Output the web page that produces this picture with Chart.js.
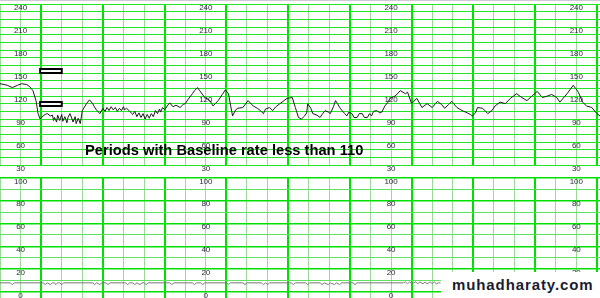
<!DOCTYPE html>
<html>
<head>
<meta charset="utf-8">
<script src="https://cdn.jsdelivr.net/npm/chart.js@4.4.0/dist/chart.umd.min.js"></script>
<style>
  html, body { margin: 0; padding: 0; background: #fff; }
  #page { position: relative; width: 600px; height: 298px; overflow: hidden; background: #fff; }
  .panel { position: absolute; left: 0; width: 600px; }
  #fhrBox { top: 0; height: 173px; }
  #uaBox { top: 170px; height: 128px; }
  #topRule { position: absolute; left: 0; top: 0; width: 600px; height: 1px; background: #cfcad8; }
  #caption {
    position: absolute; left: 85px; top: 143px;
    font: bold 14.7px "Liberation Sans", Arial, sans-serif; line-height: 15px;
    color: #000; white-space: nowrap;
  }
  #watermark {
    position: absolute; left: 441px; top: 272px; width: 159px; height: 26px;
    background: #fff; box-sizing: border-box; padding-left: 11px;
    font: bold 15px "Liberation Sans", Arial, sans-serif; line-height: 26px;
    letter-spacing: 0.9px; color: #1b1b2f; white-space: nowrap;
  }
</style>
</head>
<body>
<div id="page">
  <div class="panel" id="fhrBox"><canvas id="fhrChart"></canvas></div>
  <div class="panel" id="uaBox"><canvas id="uaChart"></canvas></div>
  <div id="topRule"></div>
  <div id="caption">Periods with Baseline rate less than 110</div>
  <div id="watermark">muhadharaty.com</div>
</div>
<script>
// fetal heart rate trace, time in seconds (20 s per small square)
const fhrTimes = [
  0, 4, 7, 12, 17, 21, 26, 29, 32, 35, 37, 39, 42, 44, 46, 49, 51, 52, 53, 55,
  56, 58, 60, 61, 63, 65, 66, 68, 70, 71, 73, 74, 76, 78, 80, 84, 87, 90, 93, 97,
  100, 102, 104, 106, 108, 110, 112, 114, 116, 118, 120, 121, 123, 126, 129, 131, 133, 135, 137, 139,
  141, 143, 145, 147, 149, 151, 153, 155, 156, 158, 160, 163, 165, 168, 171, 175, 178, 180, 183, 187,
  189, 192, 194, 199, 204, 207, 212, 216, 219, 222, 224, 226, 229, 231, 236, 241, 246, 250, 253, 256,
  258, 262, 265, 268, 272, 276, 279, 284, 287, 290, 293, 296, 298, 299, 302, 304, 308, 311, 313, 316,
  319, 321, 324, 326, 328, 330, 333, 335, 337, 339, 342, 344, 347, 349, 352, 354, 357, 359, 361, 363,
  366, 369, 371, 374, 377, 379, 384, 389, 394, 396, 400, 405, 410, 415, 420, 425, 429, 432, 436, 439,
  444, 449, 454, 457, 459, 462, 464, 469, 474, 476, 478, 481, 486, 491, 496, 502, 507, 512, 517, 522,
  527, 532, 536, 541, 544, 551, 557, 562, 566, 570, 575, 580, 583
];
const fhrBpm = [
  136, 135, 134, 131, 134, 136, 135, 132, 127, 114, 97, 90, 94, 96, 97, 94, 95, 88, 92, 86,
  95, 88, 96, 87, 93, 85, 92, 97, 90, 86, 93, 84, 91, 84, 101, 110, 115, 110, 103, 97,
  104, 100, 105, 101, 106, 102, 105, 100, 104, 101, 106, 102, 104, 100, 96, 100, 93, 98, 92, 97,
  90, 96, 91, 97, 93, 101, 97, 103, 99, 105, 102, 108, 111, 106, 108, 105, 109, 110, 116, 123,
  127, 131, 127, 118, 114, 107, 114, 122, 128, 123, 108, 94, 102, 104, 105, 114, 107, 104, 101, 97,
  103, 105, 101, 106, 110, 114, 117, 118, 105, 92, 90, 94, 98, 110, 104, 97, 95, 92, 96, 101,
  99, 97, 106, 114, 110, 105, 100, 97, 94, 99, 97, 92, 92, 97, 97, 92, 92, 97, 94, 100,
  101, 98, 99, 107, 112, 117, 120, 127, 123, 125, 110, 117, 105, 110, 105, 113, 109, 104, 109, 113,
  105, 101, 98, 96, 94, 98, 105, 104, 97, 99, 101, 107, 112, 110, 117, 123, 118, 114, 120, 126,
  118, 120, 122, 118, 112, 123, 134, 125, 112, 107, 105, 97, 94
];

// uterine activity trace (lower panel)
const uaTimes = [
  0, 10, 12, 14, 42, 44, 46, 49, 51, 53, 54, 56, 58, 60, 62, 90, 92, 94, 97, 99,
  103, 105, 107, 122, 124, 126, 129, 131, 133, 136, 138, 140, 142, 144, 165, 167, 169, 187, 189, 191,
  195, 197, 199, 220, 222, 224, 236, 238, 240, 254, 256, 258, 260, 262, 283, 285, 287, 297, 299, 301,
  311, 313, 315, 319, 321, 325, 327, 330, 332, 343, 345, 347, 392, 394, 396, 398, 400, 404, 406, 408,
  411, 413, 415, 418, 420, 422, 424, 426, 428
];
const uaValues = [
  8, 8, 6.5, 8, 8, 6.5, 8, 6.5, 8, 8, 6.5, 8, 8, 6.5, 8, 8, 6.5, 8, 6.5, 8,
  8, 6.5, 8, 8, 6.5, 8, 8, 6.5, 8, 6.5, 8, 8, 6.5, 8, 8, 6.5, 8, 8, 6.5, 8,
  8, 6.5, 8, 8, 6.5, 8, 8, 6.5, 8, 8, 6.5, 8, 6.5, 8, 8, 6.5, 8, 8, 6.5, 8,
  8, 6.5, 8, 6.5, 8, 6.5, 8, 6.5, 8, 8, 6.5, 8, 8, 8.8, 7.2, 8.8, 7.2, 8.8, 7.2, 8.8,
  7.2, 8.8, 7.2, 8.8, 7.2, 8.8, 7.2, 8, 8
];

const fhrLabels = [240, 210, 180, 150, 120, 90, 60, 30];
const uaLabels = [100, 80, 60, 40, 20, 0];
const labelTimes = [20, 200, 380, 560];
const markerBpm = [152, 110];
const markerTimes = [39, 60];

const GREEN = '#22e622';
const GREEN_THICK = '#00e000';
const GREEN_THIN = '#9cd89c';

function toPoints(xs, ys) {
  return xs.map((x, i) => ({ x, y: ys[i] }));
}

// value labels repeated in columns across the paper
const paperLabels = {
  id: 'paperLabels',
  afterDatasetsDraw(chart, args, opts) {
    const { ctx, scales: { x, y } } = chart;
    ctx.save();
    ctx.font = '8px "Liberation Sans", Arial, sans-serif';
    ctx.fillStyle = '#2b2b3b';
    ctx.textAlign = 'center';
    ctx.textBaseline = 'middle';
    labelTimes.forEach((t) => {
      opts.values.forEach((v) => {
        ctx.fillText(String(v), x.getPixelForValue(t), y.getPixelForValue(v) + opts.offset);
      });
    });
    ctx.restore();
  },
};

// the two event marker boxes
const eventMarks = {
  id: 'eventMarks',
  afterDatasetsDraw(chart) {
    const { ctx, scales: { x, y } } = chart;
    ctx.save();
    ctx.lineWidth = 2;
    ctx.strokeStyle = '#000';
    ctx.fillStyle = '#fff';
    const x0 = x.getPixelForValue(markerTimes[0]);
    const x1 = x.getPixelForValue(markerTimes[1]);
    markerBpm.forEach((v) => {
      const y0 = Math.round(y.getPixelForValue(v)) - 2;
      ctx.fillRect(x0, y0, x1 - x0, 4);
      ctx.strokeRect(x0, y0, x1 - x0, 4);
    });
    ctx.restore();
  },
};

function xScale() {
  return {
    type: 'linear',
    min: 0,
    max: 583,
    ticks: { display: false, stepSize: 20, includeBounds: false },
    border: { display: false },
    grid: {
      drawTicks: false,
      color: (c) => (c.tick.value % 20 !== 0 ? 'transparent' : c.tick.value % 60 === 40 ? GREEN_THICK : GREEN_THIN),
      lineWidth: (c) => (c.tick.value % 60 === 40 ? 2 : 1),
    },
    afterFit(s) { s.height = 0; },
  };
}

function baseOptions(padding) {
  return {
    responsive: true,
    maintainAspectRatio: false,
    animation: false,
    layout: { padding },
    plugins: { legend: { display: false }, tooltip: { enabled: false } },
  };
}

new Chart(document.getElementById('fhrChart'), {
  type: 'line',
  data: {
    datasets: [{
      data: toPoints(fhrTimes, fhrBpm),
      borderColor: '#1a1a1a',
      borderWidth: 1,
      pointRadius: 0,
      tension: 0,
    }],
  },
  options: {
    ...baseOptions({ top: 4, bottom: 8, left: 0, right: 0 }),
    plugins: {
      legend: { display: false },
      tooltip: { enabled: false },
      paperLabels: { values: fhrLabels, offset: 3.5 },
    },
    scales: {
      x: xScale(),
      y: {
        min: 30,
        max: 240,
        ticks: { display: false, stepSize: 10, includeBounds: false },
        border: { display: false },
        grid: { drawTicks: false, color: GREEN, lineWidth: 1 },
        afterFit(s) { s.width = 0; },
      },
    },
  },
  plugins: [paperLabels, eventMarks],
});

new Chart(document.getElementById('uaChart'), {
  type: 'line',
  data: {
    datasets: [{
      data: toPoints(uaTimes, uaValues),
      borderColor: '#7a7a7a',
      borderWidth: 1,
      pointRadius: 0,
      tension: 0,
    }],
  },
  options: {
    ...baseOptions({ top: 8, bottom: 0, left: 0, right: 0 }),
    plugins: {
      legend: { display: false },
      tooltip: { enabled: false },
      paperLabels: { values: uaLabels, offset: 3.5 },
    },
    scales: {
      x: xScale(),
      y: {
        min: -5.3,
        max: 100,
        ticks: { display: false, stepSize: 10, includeBounds: false },
        border: { display: false },
        grid: {
          drawTicks: false,
          color: (c) => (c.tick.value < 0 ? 'transparent' : c.tick.value % 20 === 0 ? GREEN_THICK : '#5ee35e'),
          lineWidth: (c) => (c.tick.value % 20 === 0 ? 1.5 : 1),
        },
        afterFit(s) { s.width = 0; },
      },
    },
  },
  plugins: [paperLabels],
});
</script>
</body>
</html>
